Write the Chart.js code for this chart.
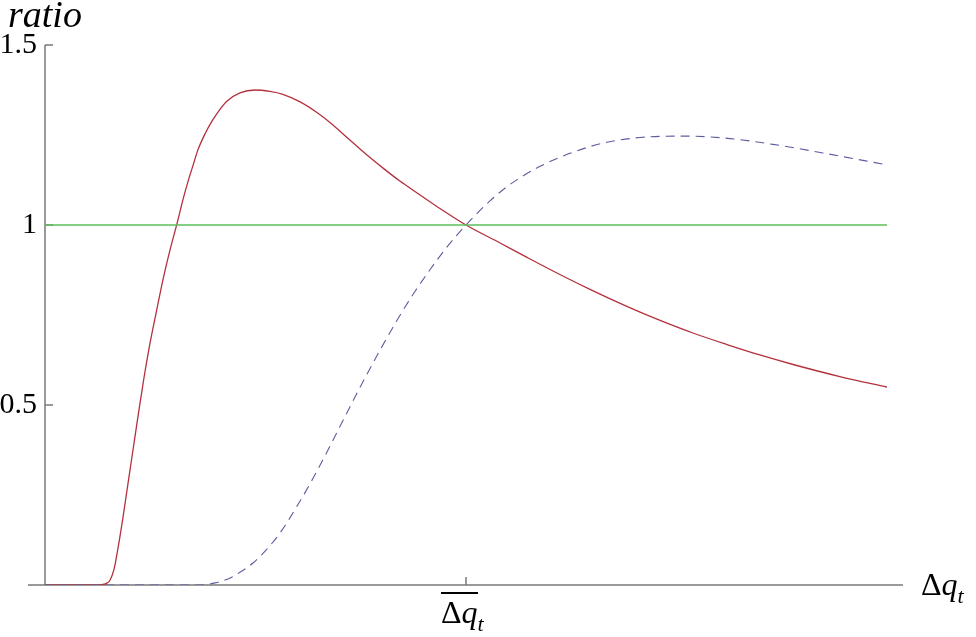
<!DOCTYPE html>
<html>
<head>
<meta charset="utf-8">
<script src="https://cdn.jsdelivr.net/npm/chart.js@4"></script>
<style>
  html, body { margin: 0; padding: 0; background: #fff; }
  #wrap { position: relative; width: 976px; height: 637px; }
  .lbl { position: absolute; font-family: "Liberation Serif", "Times New Roman", Times, "DejaVu Serif", serif; color: #000; line-height: 1; white-space: nowrap; }
  .lbl i { font-style: italic; }
  .lbl sub { font-size: 22px; font-style: italic; vertical-align: -8px; line-height: 1; }
  .bar { border-top: 2px solid #000; }
</style>
</head>
<body>
<div id="wrap">
  <canvas id="ratioChart" width="976" height="637"></canvas>
  <div class="lbl" style="left:8px; top:-5px; font-size:38px;"><i>ratio</i></div>
  <div class="lbl" style="left:921px; top:568px; font-size:32px;">Δ<i>q</i><sub>t</sub></div>
  <div class="lbl" style="left:441px; top:596px; font-size:32px;"><span class="bar">Δ<i>q</i></span><sub>t</sub></div>
</div>
<script>
// Curve data (x in units of the reference value, y = ratio)
const redX = [0, 0.126, 0.135, 0.145, 0.154, 0.164, 0.173, 0.185, 0.197, 0.209, 0.221, 0.235, 0.249, 0.264, 0.280, 0.297, 0.314, 0.328, 0.340, 0.352, 0.363, 0.380, 0.397, 0.416, 0.432, 0.463, 0.499, 0.534, 0.565, 0.606, 0.646, 0.684, 0.724, 0.762, 0.803, 0.843, 0.884, 0.938, 1.0, 1.081, 1.145, 1.223, 1.302, 1.382, 1.461, 1.539, 1.620, 1.698, 1.777, 1.888, 2.0];
const redY = [0, 0, 0.001, 0.004, 0.0125, 0.044, 0.100, 0.186, 0.281, 0.375, 0.469, 0.575, 0.669, 0.756, 0.847, 0.931, 1.006, 1.072, 1.122, 1.167, 1.208, 1.253, 1.289, 1.322, 1.344, 1.367, 1.375, 1.371, 1.363, 1.342, 1.3125, 1.278, 1.236, 1.197, 1.158, 1.122, 1.089, 1.046, 1.0, 0.950, 0.910, 0.8625, 0.817, 0.774, 0.735, 0.700, 0.668, 0.639, 0.6125, 0.579, 0.55];

const blueX = [0, 0.368, 0.404, 0.439, 0.468, 0.494, 0.525, 0.558, 0.596, 0.637, 0.677, 0.717, 0.755, 0.796, 0.834, 0.874, 0.914, 0.955, 1.0, 1.057, 1.097, 1.135, 1.176, 1.242, 1.295, 1.335, 1.413, 1.508, 1.610, 1.729, 1.848, 2.0];
const blueY = [0, 0, 0.006, 0.019, 0.039, 0.061, 0.097, 0.144, 0.214, 0.297, 0.386, 0.478, 0.564, 0.653, 0.731, 0.807, 0.875, 0.939, 1.0, 1.067, 1.106, 1.136, 1.163, 1.197, 1.218, 1.230, 1.243, 1.247, 1.242, 1.224, 1.200, 1.167];

const refX = [0, 2];
const refY = [1, 1];

const yTicks = [0.5, 1, 1.5];
const xTicks = [1];

function pts(xs, ys) {
  return xs.map((x, i) => ({ x: x, y: ys[i] }));
}

// Axes drawn by hand: x axis sticks out past the y axis, ticks point inward
const axesPlugin = {
  id: 'axes',
  beforeDatasetsDraw(chart) {
    const ctx = chart.ctx;
    const xs = chart.scales.x;
    const ys = chart.scales.y;
    const y0 = ys.getPixelForValue(0);
    const x0 = xs.getPixelForValue(0);
    ctx.save();
    ctx.strokeStyle = '#7a7a7a';
    ctx.lineWidth = 1.5;
    ctx.beginPath();
    ctx.moveTo(x0 - 17, y0);
    ctx.lineTo(xs.getPixelForValue(2) + 16, y0);
    ctx.moveTo(x0, y0);
    ctx.lineTo(x0, ys.getPixelForValue(1.5));
    yTicks.forEach((v) => {
      const p = ys.getPixelForValue(v);
      ctx.moveTo(x0, p);
      ctx.lineTo(x0 + 8, p);
    });
    xTicks.forEach((v) => {
      const p = xs.getPixelForValue(v);
      ctx.moveTo(p, y0);
      ctx.lineTo(p, y0 - 8);
    });
    ctx.stroke();
    ctx.restore();
  },
};

const ctx = document.getElementById('ratioChart');
new Chart(ctx, {
  type: 'line',
  data: {
    datasets: [
      {
        label: 'reference',
        data: pts(refX, refY),
        borderColor: '#5cbf5c',
        borderWidth: 1.5,
        pointRadius: 0,
      },
      {
        label: 'blue',
        data: pts(blueX, blueY),
        borderColor: '#5c5ca0',
        borderWidth: 1.1,
        borderDash: [9, 6],
        pointRadius: 0,
        cubicInterpolationMode: 'monotone',
      },
      {
        label: 'red',
        data: pts(redX, redY),
        borderColor: '#b3313c',
        borderWidth: 1.3,
        pointRadius: 0,
        cubicInterpolationMode: 'monotone',
      },
    ],
  },
  options: {
    responsive: false,
    animation: false,
    layout: {
      padding: { left: 0, right: 89, top: 45, bottom: 52 },
    },
    plugins: {
      legend: { display: false },
      tooltip: { enabled: false },
    },
    scales: {
      x: {
        type: 'linear',
        min: 0,
        max: 2,
        display: false,
      },
      y: {
        type: 'linear',
        min: 0,
        max: 1.5,
        afterFit: function (scale) {
          scale.width = 45;
        },
        afterBuildTicks: function (scale) {
          scale.ticks = yTicks.map((v) => ({ value: v }));
        },
        ticks: {
          padding: 8,
          color: '#000',
          font: { family: '"Liberation Serif", "Times New Roman", Times, "DejaVu Serif", serif', size: 30 },
          callback: function (value) {
            return String(value);
          },
        },
        grid: { display: false, drawTicks: false },
        border: { display: false },
      },
    },
  },
  plugins: [axesPlugin],
});
</script>
</body>
</html>
